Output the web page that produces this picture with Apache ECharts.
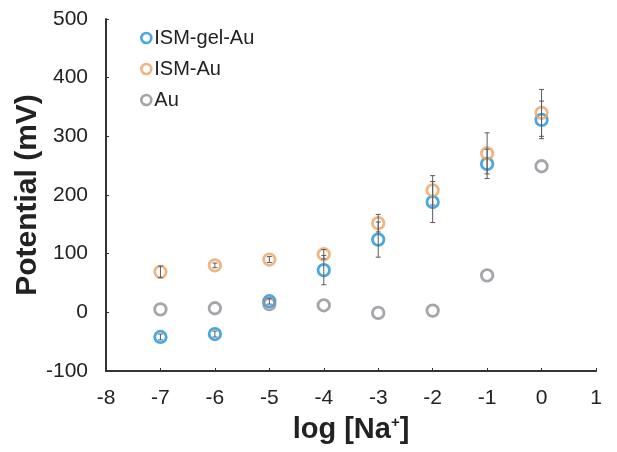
<!DOCTYPE html>
<html>
<head>
<meta charset="utf-8">
<script src="https://cdn.jsdelivr.net/npm/echarts@6/dist/echarts.min.js"></script>
<style>html,body{margin:0;padding:0;background:#fff}#c{width:617px;height:452px}</style>
</head>
<body>
<div id="c"></div>
<script>
var xVals = [-7, -6, -5, -4, -3, -2, -1, 0];
var gelAu = [-42, -37, 19, 72, 124, 188, 253, 328];
var gelAuErr = [5, 5, 5, 25, 30, 35, 25, 32];
var ismAu = [69, 80, 90, 99, 152, 208, 271, 340];
var ismAuErr = [10, 4, 5, 8, 15, 25, 35, 40];
var au = [5, 7, 14, 12, -1, 3, 63, 249];
var xTicks = [-8, -7, -6, -5, -4, -3, -2, -1, 0, 1];
var yTicks = [-100, 0, 100, 200, 300, 400, 500];
var names = ['ISM-gel-Au', 'ISM-Au', 'Au'];
var colors = ['#1c92d8', '#eca263', '#8e8e96'];

function pts(ys) { return xVals.map(function (x, i) { return [x, ys[i]]; }); }
function errs(ys, es) { return xVals.map(function (x, i) { return [x, ys[i] - es[i], ys[i] + es[i]]; }); }

function errRender(params, api) {
  var x = api.value(0), lo = api.value(1), hi = api.value(2);
  var a = api.coord([x, hi]), b = api.coord([x, lo]);
  var w = 2.5;
  var st = { stroke: '#5a5a60', lineWidth: 1 };
  return { type: 'group', children: [
    { type: 'line', shape: { x1: a[0], y1: a[1], x2: b[0], y2: b[1] }, style: st },
    { type: 'line', shape: { x1: a[0] - w, y1: a[1], x2: a[0] + w, y2: a[1] }, style: st },
    { type: 'line', shape: { x1: b[0] - w, y1: b[1], x2: b[0] + w, y2: b[1] }, style: st }
  ]};
}

function scatter(i, ys) {
  return {
    name: names[i], type: 'scatter', data: pts(ys), symbol: 'circle', symbolSize: 11.5, z: 3,
    itemStyle: { color: 'rgba(255,255,255,0)', borderColor: colors[i], borderWidth: 2.8 }
  };
}

var chart = echarts.init(document.getElementById('c'));
chart.setOption({
  animation: false,
  backgroundColor: '#fff',
  grid: { left: 106, right: 21, top: 19, bottom: 81, containLabel: false, outerBoundsMode: 'none' },
  legend: {
    orient: 'vertical', left: 135, top: 23, itemGap: 11, itemWidth: 10, itemHeight: 10,
    data: names,
    textStyle: { fontFamily: 'Liberation Sans, Arial', fontSize: 20, color: '#222', lineHeight: 20, padding: [0, 0, 0, -2] },
    itemStyle: { borderWidth: 2.6 }
  },
  xAxis: {
    type: 'value', min: -8, max: 1, interval: 1,
    name: 'log [Na{sup|+}]', nameLocation: 'middle', nameGap: 44, nameMoveOverlap: false,
    nameTextStyle: { fontFamily: 'Liberation Sans, Arial', fontSize: 29, fontWeight: 'bold', color: '#222',
      rich: { sup: { fontFamily: 'Liberation Sans, Arial', fontSize: 15, fontWeight: 'bold', color: '#222', verticalAlign: 'top', padding: [0, 0, 14, 0] } } },
    axisLine: { show: true, onZero: false, lineStyle: { color: '#333', width: 2 } },
    axisTick: { show: true, inside: true, length: 3, lineStyle: { color: '#333' } },
    axisLabel: { margin: 17, fontFamily: 'Liberation Sans, Arial', fontSize: 21, color: '#222',
      formatter: function (v) { return xTicks.indexOf(v) >= 0 ? String(v) : ''; } },
    splitLine: { show: false }
  },
  yAxis: {
    type: 'value', min: -100, max: 500, interval: 100,
    name: 'Potential (mV)', nameLocation: 'middle', nameGap: 63, nameMoveOverlap: false,
    nameTextStyle: { fontFamily: 'Liberation Sans, Arial', fontSize: 30, fontWeight: 'bold', color: '#222' },
    axisLine: { show: true, onZero: false, lineStyle: { color: '#333', width: 2 } },
    axisTick: { show: true, inside: true, length: 3, lineStyle: { color: '#333' } },
    axisLabel: { margin: 18, fontFamily: 'Liberation Sans, Arial', fontSize: 21, color: '#222',
      formatter: function (v) { return yTicks.indexOf(v) >= 0 ? String(v) : ''; } },
    splitLine: { show: false }
  },
  series: [
    scatter(0, gelAu),
    scatter(1, ismAu),
    scatter(2, au),
    { type: 'custom', name: 'errGel', data: errs(gelAu, gelAuErr), renderItem: errRender, z: 4, silent: true },
    { type: 'custom', name: 'errIsm', data: errs(ismAu, ismAuErr), renderItem: errRender, z: 4, silent: true }
  ]
});
</script>
</body>
</html>
